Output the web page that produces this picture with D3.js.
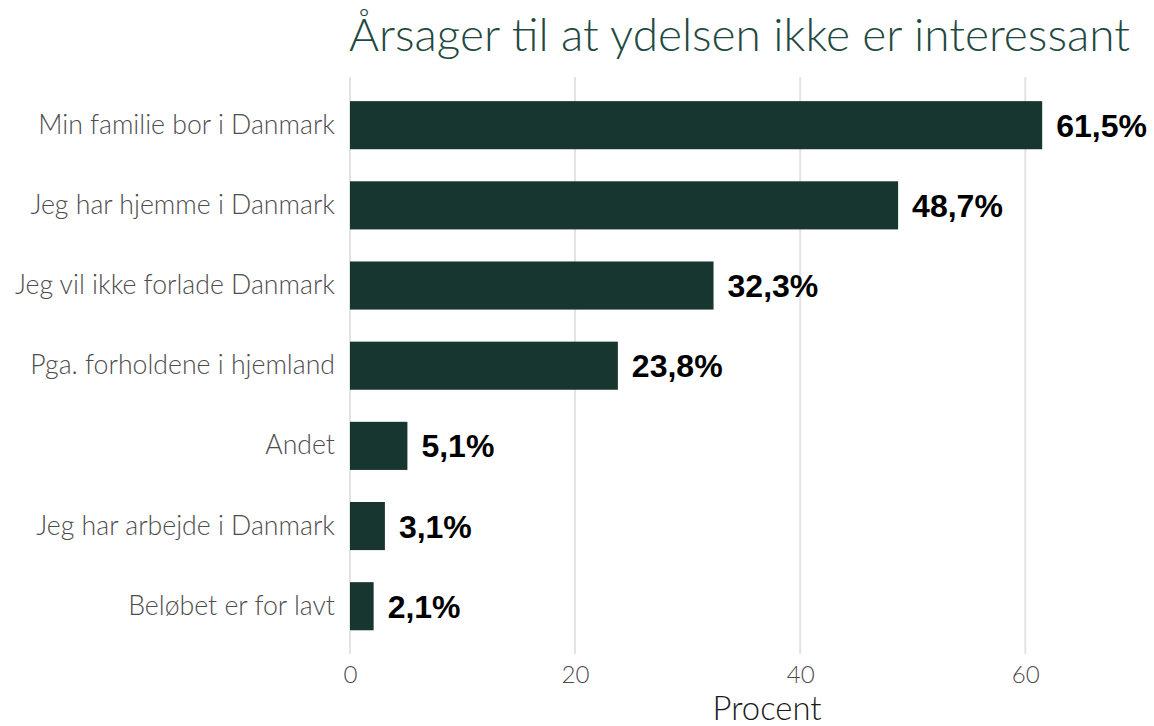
<!DOCTYPE html>
<html>
<head>
<meta charset="utf-8">
<script src="https://cdn.jsdelivr.net/npm/d3@7"></script>
<style>
  body { margin: 0; background: #fff; }
</style>
</head>
<body>
<div id="chart"></div>
<script>
const categories = [
  'Min familie bor i Danmark',
  'Jeg har hjemme i Danmark',
  'Jeg vil ikke forlade Danmark',
  'Pga. forholdene i hjemland',
  'Andet',
  'Jeg har arbejde i Danmark',
  'Beløbet er for lavt'
];
const values = [61.5, 48.7, 32.3, 23.8, 5.1, 3.1, 2.1];
const xTicks = [0, 20, 40, 60];
const titleText = 'Årsager til at ydelsen ikke er interessant';
const xTitle = 'Procent';

const W = 1154, H = 726;
const lightFont = 'Lato, "Open Sans", sans-serif';

const svg = d3.select('#chart')
  .append('svg')
  .attr('width', W)
  .attr('height', H);

// scales
const x = d3.scaleLinear().domain([0, 60]).range([350, 1025.3]);
const y = d3.scaleBand()
  .domain(categories)
  .range([85.1, 646.3])
  .paddingInner(0.4)
  .paddingOuter(0.2);

// fit a text element to a target width by adjusting font-size
function fit(sel, target) {
  const size = parseFloat(sel.style('font-size'));
  const w = sel.node().getComputedTextLength();
  sel.style('font-size', (size * target / w) + 'px');
}

// gridlines
svg.append('g')
  .selectAll('line')
  .data(xTicks)
  .join('line')
  .attr('x1', (d) => x(d))
  .attr('x2', (d) => x(d))
  .attr('y1', 77)
  .attr('y2', 654)
  .attr('stroke', '#e3e3e3')
  .attr('stroke-width', 2);

// x axis
const xAxis = svg.append('g')
  .attr('transform', 'translate(0,654)')
  .call(d3.axisBottom(x).tickValues(xTicks).tickSize(0).tickPadding(12));
xAxis.select('.domain').remove();
xAxis.selectAll('text')
  .style('font-family', lightFont)
  .style('font-weight', '300')
  .style('font-size', '24px')
  .attr('fill', '#4d4d4d');
const tick20 = xAxis.selectAll('text').filter((d) => d === 20);
fit(tick20, 28);
xAxis.selectAll('text').style('font-size', tick20.style('font-size'));

// y axis labels
const yAxis = svg.append('g')
  .attr('transform', 'translate(350,0)')
  .call(d3.axisLeft(y).tickSize(0).tickPadding(15));
yAxis.select('.domain').remove();
yAxis.selectAll('text')
  .style('font-family', lightFont)
  .style('font-weight', '300')
  .style('font-size', '24px')
  .attr('fill', '#4d4d4d');
fit(yAxis.select('text'), 297);
const ySize = yAxis.select('text').style('font-size');
yAxis.selectAll('text').style('font-size', ySize);

// bars
svg.append('g')
  .selectAll('rect')
  .data(values)
  .join('rect')
  .attr('x', x(0))
  .attr('y', (d, i) => y(categories[i]))
  .attr('width', (d) => x(d) - x(0))
  .attr('height', y.bandwidth())
  .attr('fill', '#173630');

// value labels
svg.append('g')
  .selectAll('text')
  .data(values)
  .join('text')
  .attr('x', (d) => x(d) + 14)
  .attr('y', (d, i) => y(categories[i]) + y.bandwidth() / 2)
  .attr('dy', '0.36em')
  .style('font-family', '"Liberation Sans", Arial, sans-serif')
  .style('font-weight', 'bold')
  .style('font-size', '32px')
  .attr('fill', '#000')
  .text((d) => d3.format('.1f')(d).replace('.', ',') + '%');

// title
const title = svg.append('text')
  .attr('x', 349)
  .attr('y', 51)
  .style('font-family', lightFont)
  .style('font-weight', '300')
  .style('font-size', '40px')
  .attr('fill', '#1f4a41')
  .text(titleText);
fit(title, 781);

// x axis title
const xt = svg.append('text')
  .attr('x', 767)
  .attr('y', 720)
  .attr('text-anchor', 'middle')
  .style('font-family', lightFont)
  .style('font-weight', '300')
  .style('font-size', '26px')
  .attr('fill', '#1a1a1a')
  .text(xTitle);
fit(xt, 109);
</script>
</body>
</html>
